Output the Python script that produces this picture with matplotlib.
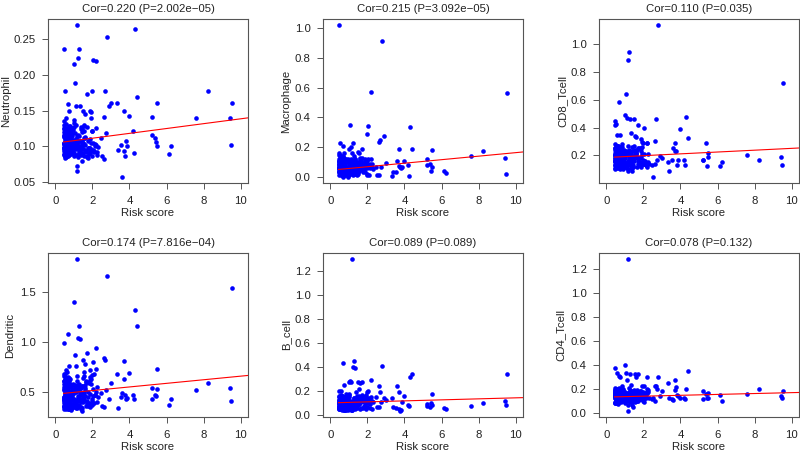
import numpy as np
import matplotlib
matplotlib.use("Agg")
import matplotlib.pyplot as plt
from matplotlib.ticker import MultipleLocator, FormatStrFormatter

plt.rcParams["font.family"] = ["Liberation Sans", "DejaVu Sans"]

# ---- data ----
# outer points of the low-risk cluster
risk_a = [1.15, 0.46, 1.30, 1.22, 2.05, 0.98, 1.05, 0.50, 1.95, 1.70,
          0.66, 1.32, 1.10, 1.50, 1.85, 0.72, 1.58, 1.90, 1.18, 1.16,
          1.45, 2.20, 2.15, 2.00, 1.92, 0.55, 0.45, 1.55]
neu_a = [0.270, 0.237, 0.236, 0.224, 0.221, 0.216, 0.189, 0.177, 0.177, 0.174,
         0.159, 0.156, 0.156, 0.150, 0.150, 0.150, 0.145, 0.148, 0.073, 0.066,
         0.080, 0.125, 0.100, 0.086, 0.140, 0.140, 0.135, 0.130]
mac_a = [0.16, 1.02, 0.14, 0.225, 0.34, 0.19, 0.346, 0.23, 0.287, 0.185,
         0.205, 0.12, 0.20, 0.17, 0.12, 0.16, 0.13, 0.10, 0.02, 0.05,
         0.01, 0.12, 0.06, 0.02, 0.08, 0.13, 0.16, 0.16]
cd8_a = [0.888, 0.45, 0.46, 0.947, 0.395, 0.493, 0.644, 0.43, 0.29, 0.42,
         0.583, 0.36, 0.47, 0.46, 0.32, 0.345, 0.33, 0.26, 0.09, 0.10,
         0.12, 0.29, 0.13, 0.17, 0.30, 0.35, 0.42, 0.34]
den_a = [1.83, 0.99, 1.165, 1.04, 0.80, 1.40, 0.865, 0.68, 0.67, 0.89,
         1.08, 1.03, 0.76, 0.82, 0.72, 0.76, 0.78, 0.63, 0.37, 0.34,
         0.31, 0.73, 0.47, 0.43, 0.58, 0.72, 0.66, 0.70]
bce_a = [1.30, 0.20, 0.45, 0.405, 0.20, 0.275, 0.285, 0.16, 0.19, 0.28,
         0.436, 0.395, 0.275, 0.275, 0.15, 0.255, 0.27, 0.17, 0.05, 0.04,
         0.06, 0.155, 0.09, 0.07, 0.13, 0.20, 0.13, 0.22]
cd4_a = [1.285, 0.37, 0.325, 0.21, 0.22, 0.40, 0.33, 0.20, 0.16, 0.32,
         0.31, 0.23, 0.27, 0.19, 0.17, 0.30, 0.30, 0.22, 0.014, 0.06,
         0.05, 0.20, 0.15, 0.11, 0.12, 0.33, 0.21, 0.32]

# dense low-risk cluster
risk_b = [0.44, 0.52, 0.61, 0.73, 0.48, 0.88, 0.57, 0.66, 0.95, 0.50,
          0.47, 0.69, 0.81, 0.55, 1.02, 0.62, 0.49, 0.77, 0.58, 1.12,
          0.53, 0.64, 0.91, 0.46, 0.71, 1.25, 0.59, 0.84, 0.51, 0.68,
          0.75, 0.45, 0.98, 0.63, 0.56, 1.35, 0.79, 0.48, 0.87, 0.60,
          1.08, 0.54, 0.70, 0.93, 0.47, 0.65, 1.18, 0.58, 0.82, 0.52,
          0.62, 1.42, 0.49, 0.76, 0.57, 1.00, 0.67, 0.45, 1.28, 0.72,
          0.85, 0.50, 0.61, 1.55, 0.74, 0.53, 0.96, 0.68, 1.15, 0.46,
          0.58, 0.80, 1.05, 0.64, 0.48, 1.38, 0.71, 0.55, 0.90, 1.62,
          0.66, 0.51, 1.22, 0.78, 0.60, 0.44, 1.48, 0.86, 0.57, 0.69,
          1.10, 0.63, 0.47, 0.94, 1.70, 0.54, 0.75, 1.30, 0.59, 0.83,
          0.49, 1.02, 0.66, 1.78, 0.56, 0.89, 0.73, 1.45, 0.52, 0.61,
          1.20, 0.77, 0.46, 1.58, 0.64, 0.99, 0.55, 1.85, 0.70, 1.12,
          0.58, 0.92, 1.33, 0.50, 0.68, 1.65, 0.81, 0.62, 1.95, 0.74,
          1.06, 0.53, 1.40, 0.87, 0.60, 2.10, 0.71, 1.26, 0.48, 1.52,
          0.65, 1.75, 0.97, 0.56, 1.88, 0.79, 1.16, 2.25, 0.63, 1.36]
neu_b = [0.105, 0.092, 0.118, 0.101, 0.088, 0.125, 0.097, 0.110, 0.094, 0.121,
         0.099, 0.086, 0.113, 0.104, 0.127, 0.091, 0.116, 0.102, 0.108, 0.096,
         0.112, 0.095, 0.103, 0.089, 0.128, 0.107, 0.085, 0.119, 0.100, 0.093,
         0.117, 0.098, 0.087, 0.123, 0.106, 0.094, 0.111, 0.130, 0.090, 0.103,
         0.101, 0.114, 0.092, 0.109, 0.097, 0.124, 0.088, 0.105, 0.115, 0.084,
         0.096, 0.107, 0.120, 0.093, 0.110, 0.099, 0.126, 0.104, 0.091, 0.113,
         0.122, 0.087, 0.100, 0.112, 0.095, 0.118, 0.106, 0.090, 0.102, 0.115,
         0.108, 0.097, 0.119, 0.086, 0.103, 0.124, 0.093, 0.111, 0.099, 0.095,
         0.092, 0.109, 0.085, 0.116, 0.098, 0.126, 0.104, 0.089, 0.121, 0.101,
         0.110, 0.094, 0.113, 0.097, 0.127, 0.105, 0.088, 0.100, 0.117, 0.107,
         0.103, 0.091, 0.122, 0.108, 0.096, 0.114, 0.099, 0.120, 0.087, 0.112,
         0.098, 0.106, 0.093, 0.102, 0.115, 0.089, 0.124, 0.097, 0.104, 0.110,
         0.119, 0.100, 0.094, 0.113, 0.107, 0.092, 0.129, 0.101, 0.095, 0.116,
         0.105, 0.123, 0.099, 0.090, 0.117, 0.094, 0.108, 0.115, 0.096, 0.103,
         0.114, 0.098, 0.106, 0.131, 0.092, 0.111, 0.104, 0.088, 0.120, 0.097]
mac_b = [0.04, 0.08, 0.01, 0.12, 0.06, 0.03, 0.10, 0.02, 0.07, 0.05,
         0.09, 0.00, 0.05, 0.13, 0.03, 0.07, 0.11, 0.04, 0.01, 0.08,
         0.02, 0.06, 0.10, 0.15, 0.04, 0.08, 0.03, 0.12, 0.06, 0.01,
         0.07, 0.05, 0.02, 0.09, 0.14, 0.04, 0.06, 0.01, 0.11, 0.03,
         0.05, 0.10, 0.08, 0.00, 0.03, 0.12, 0.07, 0.09, 0.02, 0.06,
         0.11, 0.03, 0.06, 0.05, 0.09, 0.01, 0.14, 0.08, 0.04, 0.07,
         0.02, 0.13, 0.04, 0.07, 0.10, 0.06, 0.03, 0.05, 0.09, 0.11,
         0.06, 0.01, 0.08, 0.04, 0.12, 0.07, 0.02, 0.10, 0.05, 0.09,
         0.08, 0.04, 0.06, 0.02, 0.07, 0.09, 0.05, 0.11, 0.03, 0.13,
         0.03, 0.09, 0.07, 0.12, 0.06, 0.02, 0.10, 0.04, 0.08, 0.01,
         0.10, 0.05, 0.02, 0.08, 0.11, 0.06, 0.03, 0.07, 0.15, 0.04,
         0.06, 0.11, 0.03, 0.05, 0.09, 0.07, 0.04, 0.10, 0.02, 0.08,
         0.04, 0.07, 0.12, 0.09, 0.01, 0.05, 0.08, 0.06, 0.11, 0.03,
         0.09, 0.02, 0.06, 0.10, 0.05, 0.08, 0.13, 0.03, 0.07, 0.04,
         0.07, 0.03, 0.05, 0.02, 0.10, 0.06, 0.04, 0.09, 0.12, 0.08]
cd8_b = [0.18, 0.14, 0.22, 0.26, 0.11, 0.19, 0.16, 0.24, 0.13, 0.21,
         0.17, 0.25, 0.12, 0.20, 0.15, 0.23, 0.10, 0.18, 0.27, 0.14,
         0.21, 0.16, 0.19, 0.13, 0.24, 0.18, 0.22, 0.11, 0.17, 0.26,
         0.15, 0.20, 0.23, 0.17, 0.12, 0.21, 0.14, 0.25, 0.19, 0.16,
         0.22, 0.13, 0.18, 0.24, 0.20, 0.15, 0.27, 0.12, 0.21, 0.17,
         0.19, 0.23, 0.16, 0.10, 0.26, 0.14, 0.20, 0.18, 0.13, 0.24,
         0.14, 0.21, 0.25, 0.18, 0.16, 0.22, 0.12, 0.19, 0.23, 0.15,
         0.24, 0.17, 0.13, 0.20, 0.22, 0.15, 0.26, 0.14, 0.18, 0.21,
         0.12, 0.19, 0.22, 0.16, 0.25, 0.13, 0.18, 0.23, 0.20, 0.17,
         0.20, 0.15, 0.28, 0.21, 0.14, 0.18, 0.24, 0.16, 0.11, 0.22,
         0.16, 0.23, 0.19, 0.13, 0.21, 0.17, 0.25, 0.12, 0.20, 0.27,
         0.18, 0.12, 0.24, 0.22, 0.15, 0.20, 0.14, 0.19, 0.26, 0.13,
         0.23, 0.17, 0.20, 0.15, 0.11, 0.24, 0.18, 0.22, 0.16, 0.19,
         0.13, 0.26, 0.16, 0.21, 0.19, 0.14, 0.23, 0.17, 0.25, 0.20,
         0.21, 0.18, 0.14, 0.24, 0.12, 0.20, 0.16, 0.15, 0.22, 0.09]
den_b = [0.45, 0.38, 0.56, 0.62, 0.35, 0.49, 0.41, 0.60, 0.36, 0.52,
         0.43, 0.58, 0.34, 0.50, 0.40, 0.55, 0.33, 0.47, 0.64, 0.39,
         0.51, 0.42, 0.48, 0.36, 0.59, 0.44, 0.54, 0.32, 0.46, 0.63,
         0.40, 0.53, 0.57, 0.45, 0.34, 0.50, 0.38, 0.61, 0.48, 0.42,
         0.55, 0.37, 0.46, 0.58, 0.52, 0.40, 0.66, 0.35, 0.51, 0.44,
         0.47, 0.56, 0.43, 0.33, 0.62, 0.39, 0.50, 0.45, 0.37, 0.58,
         0.38, 0.52, 0.60, 0.46, 0.42, 0.54, 0.35, 0.48, 0.57, 0.41,
         0.59, 0.44, 0.36, 0.50, 0.55, 0.40, 0.64, 0.37, 0.46, 0.52,
         0.34, 0.48, 0.53, 0.42, 0.61, 0.36, 0.45, 0.57, 0.50, 0.43,
         0.50, 0.39, 0.68, 0.52, 0.38, 0.46, 0.59, 0.41, 0.33, 0.55,
         0.42, 0.57, 0.47, 0.36, 0.53, 0.44, 0.62, 0.34, 0.49, 0.70,
         0.46, 0.35, 0.58, 0.54, 0.40, 0.51, 0.38, 0.48, 0.65, 0.37,
         0.56, 0.43, 0.50, 0.39, 0.33, 0.60, 0.45, 0.53, 0.41, 0.47,
         0.37, 0.63, 0.42, 0.52, 0.47, 0.39, 0.56, 0.44, 0.61, 0.49,
         0.53, 0.45, 0.38, 0.59, 0.35, 0.50, 0.42, 0.40, 0.55, 0.33]
bce_b = [0.08, 0.12, 0.05, 0.15, 0.10, 0.06, 0.13, 0.09, 0.04, 0.11,
         0.07, 0.14, 0.10, 0.05, 0.17, 0.08, 0.12, 0.06, 0.11, 0.09,
         0.13, 0.04, 0.09, 0.16, 0.07, 0.11, 0.05, 0.14, 0.10, 0.08,
         0.06, 0.10, 0.18, 0.08, 0.12, 0.05, 0.15, 0.07, 0.09, 0.13,
         0.11, 0.05, 0.08, 0.14, 0.06, 0.16, 0.09, 0.12, 0.04, 0.10,
         0.09, 0.13, 0.06, 0.11, 0.08, 0.15, 0.05, 0.10, 0.14, 0.07,
         0.12, 0.07, 0.16, 0.09, 0.05, 0.11, 0.13, 0.08, 0.06, 0.15,
         0.05, 0.10, 0.08, 0.13, 0.07, 0.19, 0.06, 0.12, 0.09, 0.11,
         0.10, 0.06, 0.12, 0.04, 0.14, 0.09, 0.11, 0.07, 0.17, 0.08,
         0.07, 0.15, 0.05, 0.10, 0.12, 0.08, 0.06, 0.14, 0.11, 0.09,
         0.13, 0.08, 0.11, 0.06, 0.09, 0.12, 0.04, 0.16, 0.07, 0.10,
         0.06, 0.11, 0.09, 0.14, 0.05, 0.07, 0.13, 0.10, 0.08, 0.12,
         0.09, 0.05, 0.07, 0.11, 0.15, 0.06, 0.10, 0.08, 0.13, 0.04,
         0.11, 0.08, 0.12, 0.07, 0.10, 0.14, 0.06, 0.09, 0.05, 0.16,
         0.08, 0.12, 0.06, 0.10, 0.07, 0.09, 0.11, 0.05, 0.13, 0.10]
cd4_b = [0.14, 0.10, 0.17, 0.12, 0.08, 0.15, 0.11, 0.19, 0.13, 0.09,
         0.16, 0.12, 0.20, 0.10, 0.14, 0.07, 0.18, 0.13, 0.11, 0.15,
         0.09, 0.17, 0.13, 0.15, 0.11, 0.19, 0.08, 0.14, 0.12, 0.21,
         0.13, 0.16, 0.10, 0.18, 0.12, 0.14, 0.09, 0.15, 0.17, 0.11,
         0.15, 0.08, 0.14, 0.11, 0.19, 0.13, 0.16, 0.10, 0.12, 0.18,
         0.12, 0.15, 0.09, 0.17, 0.13, 0.11, 0.20, 0.14, 0.10, 0.16,
         0.10, 0.18, 0.14, 0.12, 0.16, 0.09, 0.13, 0.15, 0.11, 0.17,
         0.17, 0.11, 0.15, 0.13, 0.08, 0.16, 0.12, 0.14, 0.19, 0.10,
         0.13, 0.16, 0.11, 0.18, 0.14, 0.12, 0.10, 0.17, 0.15, 0.09,
         0.11, 0.14, 0.19, 0.13, 0.10, 0.15, 0.17, 0.12, 0.16, 0.14,
         0.16, 0.09, 0.13, 0.15, 0.18, 0.11, 0.14, 0.10, 0.12, 0.20,
         0.14, 0.17, 0.12, 0.10, 0.15, 0.13, 0.16, 0.11, 0.18, 0.13,
         0.12, 0.15, 0.10, 0.16, 0.14, 0.19, 0.11, 0.13, 0.17, 0.15,
         0.15, 0.12, 0.18, 0.14, 0.11, 0.16, 0.13, 0.09, 0.14, 0.12,
         0.13, 0.11, 0.16, 0.12, 0.15, 0.14, 0.10, 0.17, 0.13, 0.06]

# cluster tail towards risk score ~2
risk_d = [1.24, 1.62, 0.58, 1.88, 1.41, 0.74, 2.02, 1.13, 1.53, 0.67,
          1.97, 1.27, 0.83, 1.68, 1.36, 2.18, 0.52, 1.47, 1.79, 0.95,
          1.31, 1.84, 0.61, 1.57, 2.08, 1.19, 0.88, 1.73, 1.44, 2.28,
          0.71, 1.66, 1.03, 1.91, 1.38, 0.56, 1.81, 1.22, 2.12, 0.79,
          1.49, 1.09, 1.96, 0.64, 1.60, 1.34, 2.24, 0.92, 1.76, 1.17,
          0.47, 1.43, 1.86, 1.01, 1.64, 0.69, 2.05, 1.29, 1.54, 0.85]
neu_d = [0.098, 0.112, 0.125, 0.091, 0.104, 0.118, 0.095, 0.130, 0.087, 0.108,
         0.121, 0.093, 0.110, 0.085, 0.127, 0.102, 0.115, 0.096, 0.089, 0.123,
         0.107, 0.097, 0.119, 0.128, 0.092, 0.114, 0.101, 0.086, 0.124, 0.099,
         0.111, 0.094, 0.133, 0.105, 0.088, 0.120, 0.097, 0.116, 0.103, 0.126,
         0.090, 0.109, 0.122, 0.095, 0.113, 0.100, 0.092, 0.117, 0.084, 0.106,
         0.124, 0.099, 0.110, 0.137, 0.093, 0.115, 0.104, 0.089, 0.121, 0.101]
mac_d = [0.05, 0.09, 0.02, 0.11, 0.06, 0.03, 0.08, 0.12, 0.04, 0.07,
         0.01, 0.10, 0.06, 0.13, 0.03, 0.07, 0.09, 0.02, 0.05, 0.11,
         0.08, 0.04, 0.12, 0.06, 0.01, 0.09, 0.03, 0.07, 0.10, 0.05,
         0.02, 0.11, 0.06, 0.08, 0.04, 0.13, 0.07, 0.01, 0.09, 0.05,
         0.10, 0.03, 0.06, 0.08, 0.12, 0.02, 0.07, 0.04, 0.09, 0.11,
         0.06, 0.08, 0.03, 0.10, 0.05, 0.07, 0.12, 0.02, 0.09, 0.04]
cd8_d = [0.17, 0.22, 0.13, 0.25, 0.19, 0.15, 0.21, 0.11, 0.24, 0.18,
         0.14, 0.20, 0.26, 0.16, 0.23, 0.12, 0.19, 0.27, 0.15, 0.21,
         0.18, 0.13, 0.24, 0.20, 0.16, 0.22, 0.10, 0.25, 0.17, 0.14,
         0.23, 0.19, 0.12, 0.21, 0.26, 0.15, 0.18, 0.24, 0.13, 0.20,
         0.16, 0.22, 0.14, 0.27, 0.19, 0.11, 0.21, 0.17, 0.25, 0.15,
         0.20, 0.13, 0.23, 0.18, 0.12, 0.24, 0.16, 0.21, 0.19, 0.28]
den_d = [0.44, 0.57, 0.36, 0.62, 0.48, 0.40, 0.53, 0.34, 0.66, 0.46,
         0.38, 0.55, 0.42, 0.60, 0.35, 0.50, 0.45, 0.64, 0.39, 0.52,
         0.47, 0.37, 0.58, 0.43, 0.68, 0.36, 0.51, 0.41, 0.56, 0.45,
         0.33, 0.61, 0.49, 0.38, 0.54, 0.44, 0.59, 0.35, 0.47, 0.63,
         0.40, 0.52, 0.37, 0.57, 0.46, 0.42, 0.55, 0.34, 0.50, 0.61,
         0.39, 0.48, 0.65, 0.43, 0.36, 0.53, 0.46, 0.58, 0.41, 0.49]
bce_d = [0.09, 0.13, 0.06, 0.11, 0.15, 0.07, 0.10, 0.04, 0.12, 0.08,
         0.14, 0.06, 0.10, 0.17, 0.08, 0.12, 0.05, 0.09, 0.13, 0.07,
         0.11, 0.15, 0.06, 0.09, 0.12, 0.04, 0.10, 0.14, 0.08, 0.11,
         0.07, 0.13, 0.09, 0.05, 0.12, 0.16, 0.08, 0.10, 0.06, 0.14,
         0.09, 0.11, 0.07, 0.13, 0.05, 0.10, 0.12, 0.08, 0.15, 0.06,
         0.10, 0.14, 0.07, 0.09, 0.11, 0.05, 0.13, 0.08, 0.12, 0.18]
cd4_d = [0.13, 0.16, 0.10, 0.18, 0.12, 0.15, 0.09, 0.14, 0.17, 0.11,
         0.15, 0.12, 0.19, 0.13, 0.10, 0.16, 0.14, 0.11, 0.18, 0.13,
         0.12, 0.17, 0.14, 0.09, 0.16, 0.13, 0.20, 0.11, 0.15, 0.12,
         0.14, 0.10, 0.17, 0.13, 0.15, 0.18, 0.11, 0.14, 0.12, 0.16,
         0.13, 0.15, 0.10, 0.17, 0.14, 0.12, 0.19, 0.13, 0.11, 0.16,
         0.14, 0.12, 0.15, 0.08, 0.17, 0.13, 0.11, 0.16, 0.14, 0.22]

# sparse high-risk samples
risk_c = [2.20, 2.45, 2.50, 2.60, 2.62, 2.67, 2.72, 2.78, 2.88, 3.00,
          3.32, 3.38, 3.55, 3.58, 3.68, 3.72, 3.75, 3.80, 3.85, 4.00,
          4.20, 4.22, 4.28, 4.38, 5.20, 5.22, 5.38, 5.42, 5.48, 5.50,
          6.12, 6.25, 7.57, 8.22, 9.45, 9.48, 9.55]
neu_c = [0.219, 0.111, 0.086, 0.082, 0.141, 0.178, 0.119, 0.253, 0.156, 0.161,
         0.160, 0.095, 0.102, 0.057, 0.149, 0.094, 0.087, 0.108, 0.100, 0.142,
         0.122, 0.090, 0.264, 0.169, 0.141, 0.116, 0.112, 0.106, 0.101, 0.160,
         0.089, 0.100, 0.140, 0.177, 0.139, 0.102, 0.160]
mac_c = [0.57, 0.07, 0.01, 0.015, 0.235, 0.25, 0.065, 0.91, 0.273, 0.095,
         0.003, 0.03, 0.035, 0.108, 0.188, 0.075, 0.065, 0.06, 0.07, 0.105,
         0.077, 0.008, 0.332, 0.188, 0.12, 0.08, 0.09, 0.037, 0.07, 0.182,
         0.037, 0.028, 0.142, 0.173, 0.13, 0.022, 0.565]
cd8_c = [0.29, 0.13, 0.045, 0.14, 0.305, 0.46, 0.17, 1.14, 0.195, 0.18,
         0.15, 0.088, 0.17, 0.25, 0.235, 0.29, 0.23, 0.13, 0.165, 0.39,
         0.165, 0.13, 0.475, 0.325, 0.17, 0.165, 0.29, 0.125, 0.19, 0.217,
         0.125, 0.15, 0.205, 0.164, 0.188, 0.13, 0.724]
den_c = [0.94, 0.49, 0.36, 0.345, 0.84, 0.82, 0.52, 1.66, 0.43, 0.585,
         0.68, 0.335, 0.45, 0.49, 0.81, 0.63, 0.47, 0.43, 0.44, 0.69,
         0.47, 0.425, 1.32, 1.165, 0.535, 0.425, 0.47, 0.455, 0.53, 0.725,
         0.37, 0.425, 0.515, 0.59, 0.535, 0.41, 1.54]
bce_c = [0.29, 0.15, 0.07, 0.065, 0.245, 0.19, 0.11, 0.41, 0.14, 0.13,
         0.14, 0.065, 0.06, 0.24, 0.195, 0.05, 0.035, 0.045, 0.11, 0.157,
         0.085, 0.075, 0.315, 0.345, 0.09, 0.08, 0.07, 0.10, 0.085, 0.174,
         0.062, 0.055, 0.079, 0.10, 0.118, 0.087, 0.345]
cd4_c = [0.30, 0.11, 0.12, 0.10, 0.22, 0.225, 0.20, 0.30, 0.14, 0.18,
         0.245, 0.12, 0.11, 0.105, 0.27, 0.185, 0.215, 0.15, 0.135, 0.125,
         0.125, 0.115, 0.20, 0.345, 0.183, 0.11, 0.155, 0.125, 0.125, 0.165,
         0.146, 0.10, 0.158, 0.20, 0.135, 0.12, 0.18]

cells = ["Neutrophil", "Macrophage", "CD8_Tcell", "Dendritic", "B_cell", "CD4_Tcell"]
titles = ["Cor=0.220 (P=2.002e\u221205)", "Cor=0.215 (P=3.092e\u221205)",
          "Cor=0.110 (P=0.035)", "Cor=0.174 (P=7.816e\u221204)",
          "Cor=0.089 (P=0.089)", "Cor=0.078 (P=0.132)"]
# fitted lines: value at risk=0 and slope
fit_b0 = [0.1045, 0.045, 0.185, 0.478, 0.102, 0.130]
fit_b1 = [0.0034, 0.0118, 0.0066, 0.0180, 0.0042, 0.0037]
ytick_step = [0.05, 0.2, 0.2, 0.5, 0.2, 0.2]
ytick_fmt = ["%.2f", "%.1f", "%.1f", "%.1f", "%.1f", "%.1f"]

risk = np.array(risk_a + risk_b + risk_d + risk_c)
values = [np.array(neu_a + neu_b + neu_d + neu_c),
          np.array(mac_a + mac_b + mac_d + mac_c),
          np.array(cd8_a + cd8_b + cd8_d + cd8_c),
          np.array(den_a + den_b + den_d + den_c),
          np.array(bce_a + bce_b + bce_d + bce_c),
          np.array(cd4_a + cd4_b + cd4_d + cd4_c)]

# ---- figure ----
W, H = 800, 454
fig = plt.figure(figsize=(W / 100, H / 100), dpi=100)
lefts = [48, 323, 599]
tops = [19, 253]
bw, bh = 200, 164
ylab_off = [37, 32, 31, 33, 32, 34]   # px from box to y label
txt = "#222222"
edge = "#555555"

for k, (name, y) in enumerate(zip(cells, values)):
    r, c = divmod(k, 3)
    ax = fig.add_axes([lefts[c] / W, 1 - (tops[r] + bh) / H, bw / W, bh / H])
    ax.scatter(risk, y, s=11, color="#0000FF", linewidths=0, zorder=2)
    xs = np.array([risk.min(), 10.4])
    ax.plot(xs, fit_b0[k] + fit_b1[k] * xs, color="#FF0000", lw=0.8, zorder=3)
    ax.set_xlim(-0.4, 10.4)
    pad = 0.04 * (y.max() - y.min())
    ax.set_ylim(y.min() - pad, y.max() + pad)
    ax.xaxis.set_major_locator(MultipleLocator(2))
    ax.yaxis.set_major_locator(MultipleLocator(ytick_step[k]))
    ax.yaxis.set_major_formatter(FormatStrFormatter(ytick_fmt[k]))
    ax.tick_params(length=4, width=0.7, pad=5, labelsize=8.2,
                   colors=edge, labelcolor=txt)
    for s in ax.spines.values():
        s.set_color(edge)
        s.set_linewidth(0.8)
    ax.set_title(titles[k], fontsize=8.2, color=txt, pad=5)
    ax.set_xlabel("Risk score", fontsize=8.2, color=txt)
    ax.set_ylabel(name, fontsize=8.2, color=txt)
    ax.xaxis.set_label_coords(0.5, -0.15)
    ax.yaxis.set_label_coords(-ylab_off[k] / bw, 0.5)

fig.savefig("out.png", dpi=100)
